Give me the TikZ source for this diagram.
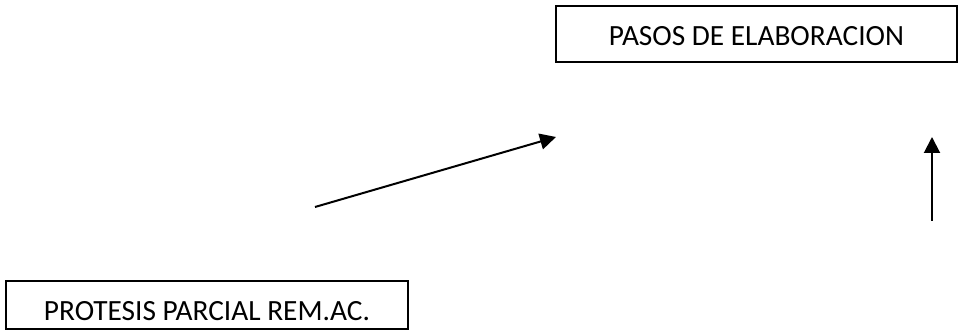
\documentclass[tikz,border=0pt]{standalone}
\usepackage{fontspec}
\setmainfont{Carlito}
\usetikzlibrary{arrows.meta}
\tikzset{
  lbl/.style ={rectangle, draw=black, line width=1.5pt, fill=white,
               align=center, inner sep=0pt, text depth=0pt,
               font=\fontsize{22}{26}\selectfont},
  arr/.style ={-{Triangle[length=12pt, width=12pt]}, line width=1.5pt, draw=black},
}
\begin{document}
\begin{tikzpicture}[x=0.75pt, y=-0.75pt]
  \useasboundingbox (0,0) rectangle (958,331);

  % boxes
  \node[lbl, minimum width=300.75pt, minimum height=42pt, text height=17.2pt]
       (pasos) at (756.5,34) {PASOS DE ELABORACION};
  \node[lbl, minimum width=301.5pt, minimum height=36pt, text height=23.2pt]
       (protesis) at (207,305) {PROTESIS PARCIAL REM.AC.};

  % free arrow ends
  \coordinate (diagtail) at (315,207);
  \coordinate (diaghead) at (556,137);
  \coordinate (verttail) at (932,221);
  \coordinate (verthead) at (932,137);

  % arrows
  \draw[arr] (diagtail) -- (diaghead);
  \draw[arr] (verttail) -- (verthead);
\end{tikzpicture}
\end{document}
